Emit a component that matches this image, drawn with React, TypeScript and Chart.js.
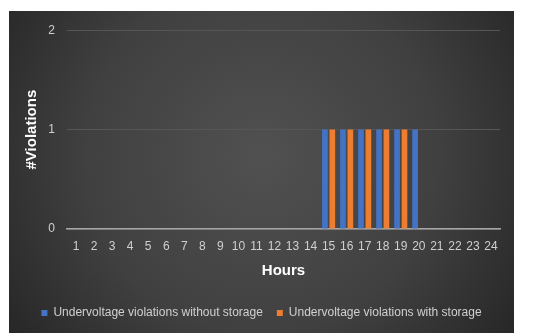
import React, { useEffect, useRef } from "react";
import { Chart, registerables } from "chart.js";

Chart.register(...registerables);

const hours = Array.from({ length: 24 }, (_, i) => String(i + 1));
const withoutStorage = [0, 0, 0, 0, 0, 0, 0, 0, 0, 0, 0, 0, 0, 0, 1, 1, 1, 1, 1, 1, 0, 0, 0, 0];
const withStorage = [0, 0, 0, 0, 0, 0, 0, 0, 0, 0, 0, 0, 0, 0, 1, 1, 1, 1, 1, 0, 0, 0, 0, 0];
const yTicks = [0, 1, 2];

const FONT = "'Liberation Sans', Arial, sans-serif";

const bgPlugin = {
  id: "bg",
  beforeDraw(chart: any) {
    const { ctx, width, height } = chart;
    ctx.save();
    const g = ctx.createRadialGradient(width * 0.5, height * 0.45, 10, width * 0.5, height * 0.45, width * 0.62);
    g.addColorStop(0, "#505050");
    g.addColorStop(0.55, "#404040");
    g.addColorStop(1, "#262626");
    ctx.fillStyle = g;
    ctx.fillRect(0, 0, width, height);
    ctx.restore();
  },
};

export default function App() {
  const ref = useRef<HTMLCanvasElement>(null);
  useEffect(() => {
    if (!ref.current) return;
    const chart = new Chart(ref.current, {
      type: "bar",
      data: {
        labels: hours,
        datasets: [
          {
            label: "Undervoltage violations without storage",
            data: withoutStorage,
            backgroundColor: "#4472C4",
            categoryPercentage: 0.82,
            barPercentage: 0.77,
          },
          {
            label: "Undervoltage violations with storage",
            data: withStorage,
            backgroundColor: "#ED7D31",
            categoryPercentage: 0.82,
            barPercentage: 0.77,
          },
        ],
      },
      options: {
        animation: false,
        responsive: false,
        maintainAspectRatio: false,
        layout: { padding: { left: 0, right: 0, top: 10, bottom: 4 } },
        plugins: {
          tooltip: { enabled: false },
          legend: {
            position: "bottom",
            labels: {
              boxWidth: 6,
              boxHeight: 6,
              padding: 14,
              color: "#d0d0d0",
              font: { family: FONT, size: 12 },
            },
          },
        },
        scales: {
          x: {
            afterFit: (scale: any) => {
              scale.height = 64;
            },
            grid: { display: false, drawTicks: false },
            border: { display: true, color: "#a6a6a6", width: 1.5 },
            ticks: { color: "#d0d0d0", font: { family: FONT, size: 12 }, padding: 10, maxRotation: 0, autoSkip: false },
            title: {
              display: true,
              text: "Hours",
              color: "#ffffff",
              font: { family: FONT, size: 15, weight: "bold" },
              padding: { top: 0, bottom: 13 },
            },
          },
          y: {
            min: 0,
            max: 2,
            afterBuildTicks: (scale: any) => {
              scale.ticks = yTicks.map((v) => ({ value: v }));
            },
            afterFit: (scale: any) => {
              scale.width = 58;
            },
            grid: { color: "#565656", lineWidth: 1, drawTicks: false },
            border: { display: false },
            ticks: { color: "#d0d0d0", font: { family: FONT, size: 12 }, padding: 12 },
            title: {
              display: true,
              text: "#Violations",
              color: "#ffffff",
              font: { family: FONT, size: 15, weight: "bold" },
              padding: { top: 14, bottom: 0 },
            },
          },
          yRight: {
            position: "right",
            display: true,
            min: 0,
            max: 2,
            afterFit: (scale: any) => {
              scale.width = 14;
            },
            grid: { display: false, drawTicks: false },
            border: { display: false },
            ticks: { display: false },
          },
        },
      },
      plugins: [bgPlugin],
    });
    return () => chart.destroy();
  }, []);
  return (
    <div style={{ paddingLeft: 1, paddingTop: 3 }}>
      <canvas ref={ref} width={505} height={322} style={{ display: "block", width: 505, height: 322 }} />
    </div>
  );
}
